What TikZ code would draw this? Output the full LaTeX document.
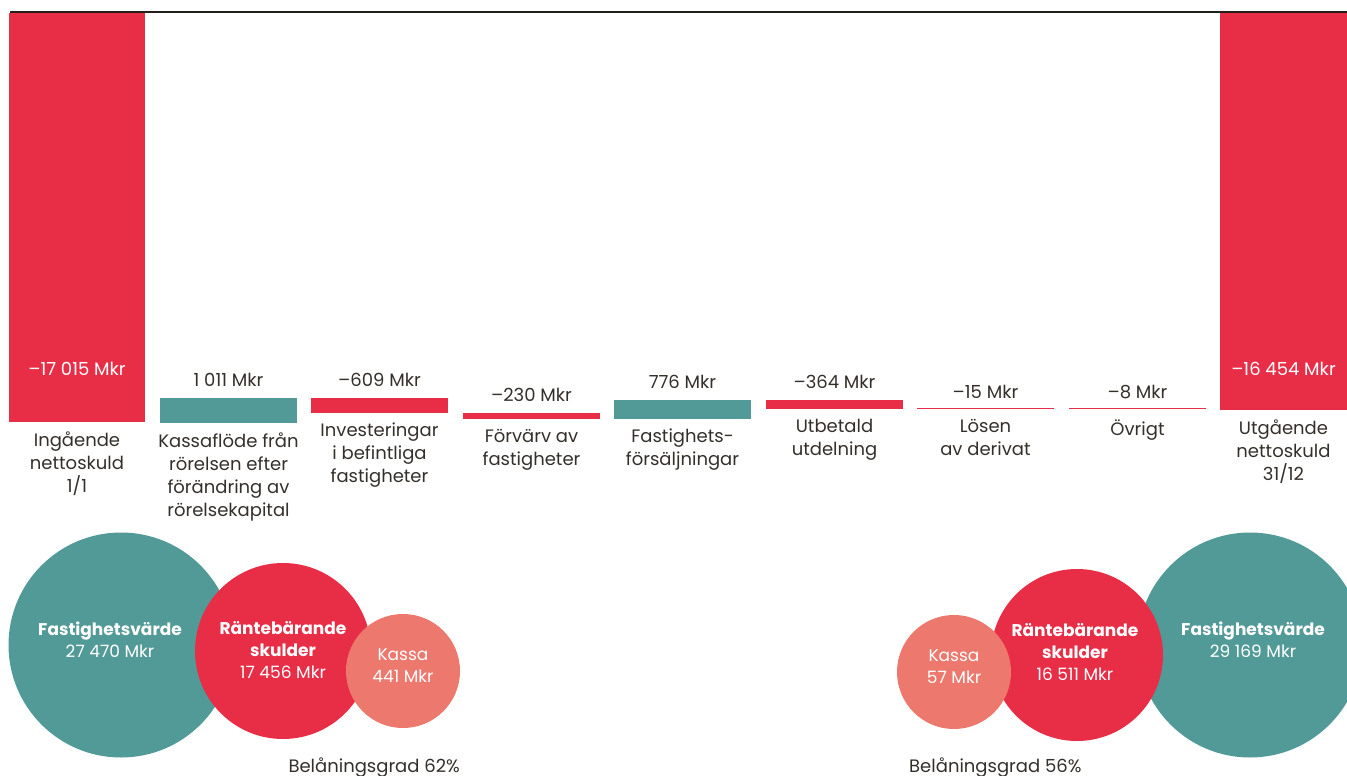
\documentclass[tikz,border=0pt]{standalone}
\usepackage{fontspec}
\setmainfont{Poppins}
\usetikzlibrary{positioning}
\definecolor{negred}{RGB}{232,46,70}
\definecolor{posteal}{RGB}{82,154,151}
\definecolor{cashpink}{RGB}{236,120,110}
\definecolor{txtgray}{RGB}{52,47,43}
\definecolor{toprule}{RGB}{35,31,26}
\tikzset{%
  colbar/.style={rectangle,inner sep=0pt,outer sep=0pt,minimum width=137pt,anchor=north west},
  negbar/.style={colbar,fill=negred},
  posbar/.style={colbar,fill=posteal},
  amount/.style={inner sep=0pt,text=txtgray,font=\fontsize{18}{23}\selectfont},
  category/.style={inner sep=0pt,text=txtgray,align=center,execute at begin node=\strut,
    font=\fontsize{18}{23}\selectfont},
  bubble/.style={circle,inner sep=0pt,minimum size=#1},
  bubbletext/.style={inner sep=0pt,text=white,align=center,font=\fontsize{17}{22}\selectfont}
}

\begin{document}
\begin{tikzpicture}[x=1pt,y=-1pt,node distance=11pt]
  \useasboundingbox (0,0) rectangle (1347,776);
  \draw[line width=2pt,toprule] (10,12) -- (1347,12);

  % waterfall
  \node [negbar,minimum height=409pt,minimum width=136pt] (b1) at (9,13) {};
  \node [posbar,minimum height=25pt] (b2) at (160,398) {};
  \node [negbar,minimum height=15pt] (b3) at (311,398) {};
  \node [negbar,minimum height=6pt] (b4) at (463,413) {};
  \node [posbar,minimum height=19pt] (b5) at (614,400) {};
  \node [negbar,minimum height=9pt] (b6) at (766,400) {};
  \node [negbar,minimum height=1.2pt] (b7) at (917,408) {};
  \node [negbar,minimum height=1.2pt] (b8) at (1069,408) {};
  \node [negbar,minimum height=397pt,minimum width=127pt] (b9) at (1220,13) {};

  \node [amount,text=white,above=46pt of b1.south] (v1) {–17 015 Mkr};
  \node [amount,above=of b2] (v2) {1 011 Mkr};
  \node [amount,above=of b3] (v3) {–609 Mkr};
  \node [amount,above=of b4] (v4) {–230 Mkr};
  \node [amount,above=of b5] (v5) {776 Mkr};
  \node [amount,above=of b6] (v6) {–364 Mkr};
  \node [amount,above=9pt of b7] (v7) {–15 Mkr};
  \node [amount,above=9pt of b8] (v8) {–8 Mkr};
  \node [amount,text=white,above=34pt of b9.south] (v9) {–16 454 Mkr};

  \node [category,below=10pt of b1] (c1) {Ingående\\nettoskuld\\1/1};
  \node [category,below=10pt of b2] (c2) {Kassaflöde från\\rörelsen efter\\förändring av\\rörelsekapital};
  \node [category,below=10pt of b3] (c3) {Investeringar\\i befintliga\\fastigheter};
  \node [category,below=10pt of b4] (c4) {Förvärv av\\fastigheter};
  \node [category,below=10pt of b5] (c5) {Fastighets-\\försäljningar};
  \node [category,below=10pt of b6] (c6) {Utbetald\\utdelning};
  \node [category,below=10pt of b7] (c7) {Lösen\\av derivat};
  \node [category,below=10pt of b8] (c8) {Övrigt};
  \node [category,below=10pt of b9] (c9) {Utgående\\nettoskuld\\31/12};

  % opening balance
  \node [bubble=225pt,fill=posteal] (fv1) at (121,645) {};
  \node [bubble=176pt,fill=negred] (rs1) at (283,651) {};
  \node [bubble=114pt,fill=cashpink] (ka1) at (403,671) {};
  \node [bubbletext] (fv1t) at (110,640) {\textbf{Fastighetsvärde}\\27 470 Mkr};
  \node [bubbletext] (rs1t) at (283,650) {\textbf{Räntebärande}\\\textbf{skulder}\\17 456 Mkr};
  \node [bubbletext] (ka1t) at (403,666) {Kassa\\441 Mkr};
  \node [amount,anchor=base east] (lg1) at (460,772) {Belåningsgrad 62\%};

  % closing balance
  \node [bubble=225pt,fill=posteal] (fv2) at (1250,645) {};
  \node [bubble=172pt,fill=negred] (rs2) at (1077,655) {};
  \node [bubble=114pt,fill=cashpink] (ka2) at (954,672) {};
  \node [bubbletext] (fv2t) at (1253,640) {\textbf{Fastighetsvärde}\\29 169 Mkr};
  \node [bubbletext] (rs2t) at (1075,652) {\textbf{Räntebärande}\\\textbf{skulder}\\16 511 Mkr};
  \node [bubbletext] (ka2t) at (954,667) {Kassa\\57 Mkr};
  \node [amount,anchor=base west] (lg2) at (909,772) {Belåningsgrad 56\%};
\end{tikzpicture}
\end{document}
